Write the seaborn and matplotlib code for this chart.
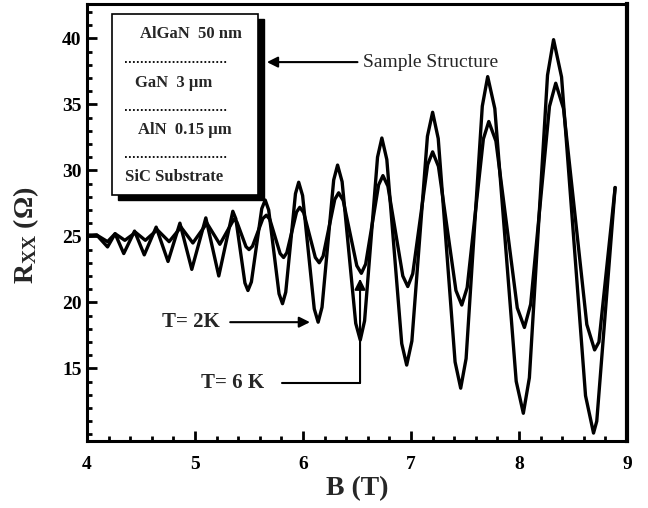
import numpy as np
import pandas as pd
import seaborn as sns
import matplotlib.pyplot as plt
from matplotlib.patches import Rectangle
from matplotlib.ticker import MultipleLocator, FixedLocator

# Данные: B (T) и R_xx (Ohm)
B_2K = [4.00, 4.09, 4.19, 4.26, 4.34, 4.44, 4.53, 4.64, 4.75, 4.86, 4.97, 5.10, 5.22,
        5.35, 5.378, 5.42, 5.462, 5.49, 5.522, 5.57, 5.618, 5.65, 5.682, 5.73, 5.778,
        5.81, 5.84, 5.885, 5.93, 5.96, 5.996, 6.05, 6.104, 6.14, 6.176, 6.23, 6.284,
        6.32, 6.362, 6.425, 6.488, 6.53, 6.57, 6.63, 6.69, 6.73, 6.776, 6.845, 6.914,
        6.96, 7.008, 7.08, 7.152, 7.20, 7.252, 7.33, 7.408, 7.46, 7.51, 7.585, 7.66,
        7.71, 7.776, 7.875, 7.974, 8.04, 8.096, 8.18, 8.264, 8.32, 8.394, 8.505, 8.616,
        8.69, 8.72, 8.89]
R_2K = [25.1, 25.1, 24.2, 25.2, 23.7, 25.4, 23.6, 25.7, 23.1, 26.0, 22.5, 26.4, 22.0,
        26.9, 26.33, 23.9, 21.47, 20.9, 21.55, 24.33, 27.1, 27.75, 27.0, 23.83, 20.65,
        19.9, 20.77, 24.5, 28.23, 29.1, 28.09, 23.8, 19.51, 18.5, 19.63, 24.45, 29.27,
        30.4, 29.14, 23.78, 18.41, 17.15, 18.6, 24.8, 31.0, 32.45, 30.82, 23.85, 16.88,
        15.25, 17.07, 24.83, 32.58, 34.4, 32.41, 23.95, 15.49, 13.5, 15.74, 25.3, 34.86,
        37.1, 34.68, 24.35, 14.02, 11.6, 14.29, 25.75, 37.21, 39.9, 37.07, 25.0, 12.93,
        10.1, 11.0, 28.7]

B_6K = [4.00, 4.09, 4.19, 4.26, 4.35, 4.45, 4.54, 4.65, 4.76, 4.87, 4.98, 5.11, 5.23,
        5.36, 5.388, 5.43, 5.472, 5.50, 5.532, 5.58, 5.628, 5.66, 5.692, 5.74, 5.788,
        5.82, 5.85, 5.895, 5.94, 5.97, 6.006, 6.06, 6.114, 6.15, 6.186, 6.24, 6.294,
        6.33, 6.372, 6.435, 6.498, 6.54, 6.58, 6.64, 6.70, 6.74, 6.786, 6.855, 6.924,
        6.97, 7.016, 7.085, 7.154, 7.20, 7.254, 7.335, 7.416, 7.47, 7.52, 7.595, 7.67,
        7.72, 7.786, 7.885, 7.984, 8.05, 8.108, 8.195, 8.282, 8.34, 8.412, 8.52, 8.628,
        8.70, 8.74, 8.89]
R_6K = [25.0, 25.1, 24.6, 25.2, 24.7, 25.3, 24.7, 25.5, 24.6, 25.7, 24.5, 26.0, 24.4,
        26.3, 26.08, 25.15, 24.22, 24.0, 24.25, 25.3, 26.35, 26.6, 26.3, 25.0, 23.7,
        23.4, 23.76, 25.3, 26.84, 27.2, 26.8, 25.1, 23.4, 23.0, 23.5, 25.65, 27.8,
        28.3, 27.72, 25.25, 22.78, 22.2, 22.9, 25.9, 28.9, 29.6, 28.8, 25.4, 22.0,
        21.2, 22.17, 26.3, 30.43, 31.4, 30.3, 25.6, 20.9, 19.8, 21.12, 26.75, 32.38,
        33.7, 32.22, 25.9, 19.58, 18.1, 19.86, 27.35, 34.84, 36.6, 34.68, 26.5, 18.32,
        16.4, 17.0, 28.7]

layers = ["AlGaN  50 nm", "GaN  3 \u03bcm", "AlN  0.15 \u03bcm", "SiC Substrate"]
x_ticks = [4, 5, 6, 7, 8, 9]
y_ticks = [15, 20, 25, 30, 35, 40]

sns.set_theme(style="ticks")
plt.rcParams['font.family'] = ['Liberation Serif', 'DejaVu Serif']
plt.rcParams['mathtext.fontset'] = 'custom'
plt.rcParams['mathtext.rm'] = 'Liberation Serif'
plt.rcParams['mathtext.bf'] = 'Liberation Serif:bold'
plt.rcParams['mathtext.it'] = 'Liberation Serif:italic'

fig = plt.figure(figsize=(6.48, 5.08), dpi=100)
ax = fig.add_axes([0.1343, 0.1319, 0.8333, 0.8602])

sns.lineplot(x=B_2K, y=R_2K, ax=ax, color='black', lw=2.4, sort=False, estimator=None,
             solid_joinstyle='round', solid_capstyle='round')
sns.lineplot(x=B_6K, y=R_6K, ax=ax, color='black', lw=2.4, sort=False, estimator=None,
             solid_joinstyle='round', solid_capstyle='round')

ax.set_xlim(4, 9)
ax.set_ylim(9.5, 42.6)
ax.xaxis.set_major_locator(FixedLocator(x_ticks))
ax.xaxis.set_minor_locator(MultipleLocator(0.2))
ax.yaxis.set_major_locator(FixedLocator(y_ticks))
ax.yaxis.set_minor_locator(MultipleLocator(1))
ax.tick_params(which='both', direction='in', width=2, colors='black')
ax.tick_params(which='major', length=7)
ax.tick_params(which='minor', length=3.5)
ax.tick_params(axis='x', pad=11, labelsize=14)
ax.tick_params(axis='y', pad=4, labelsize=14)
for lab in ax.get_xticklabels() + ax.get_yticklabels():
    lab.set_fontweight('bold')

for side in ['left', 'bottom', 'top']:
    ax.spines[side].set_linewidth(2.2)
    ax.spines[side].set_color('black')
ax.spines['right'].set_linewidth(3)
ax.spines['right'].set_color('black')

ax.set_xlabel('B (T)', fontsize=20, fontweight='bold', labelpad=2)
ax.set_ylabel('R$_{\\mathbf{XX}}$ (\u03a9)', fontsize=20, fontweight='bold')
ax.yaxis.set_label_coords(-0.085, 0.47)

# Вставка со структурой образца
ax.add_patch(Rectangle((0.057, 0.552), 0.2704, 0.414, transform=ax.transAxes,
                       facecolor='black', edgecolor='black', zorder=4))
ax.add_patch(Rectangle((0.0463, 0.563), 0.2704, 0.414, transform=ax.transAxes,
                       facecolor='white', edgecolor='black', lw=1.2, zorder=5))
text_x = [0.098, 0.089, 0.094, 0.070]
text_y = [0.931, 0.819, 0.712, 0.604]
for name, tx, ty in zip(layers, text_x, text_y):
    ax.text(tx, ty, name, transform=ax.transAxes, fontsize=12, fontweight='bold',
            ha='left', va='center', zorder=6)
for dy in [0.867, 0.757, 0.650]:
    ax.plot([0.0704, 0.2593], [dy, dy], transform=ax.transAxes, color='black',
            lw=1.3, ls=(0, (1, 1.2)), zorder=6)

ax.annotate('', xy=(5.64, 38.2), xytext=(6.53, 38.2),
            arrowprops=dict(arrowstyle='-|>', color='black', lw=1.5, mutation_scale=16))
ax.text(6.556, 38.2, 'Sample Structure', fontsize=14, ha='left', va='center')

ax.text(4.96, 18.5, 'T= 2K', fontsize=15, fontweight='bold', ha='center', va='center')
ax.annotate('', xy=(6.09, 18.5), xytext=(5.30, 18.5),
            arrowprops=dict(arrowstyle='-|>', color='black', lw=1.5, mutation_scale=16))

ax.text(5.35, 13.9, 'T= 6 K', fontsize=15, fontweight='bold', ha='center', va='center')
ax.plot([5.81, 6.528], [13.9, 13.9], color='black', lw=1.5)
ax.annotate('', xy=(6.528, 21.8), xytext=(6.528, 13.9),
            arrowprops=dict(arrowstyle='-|>', color='black', lw=1.5, mutation_scale=16,
                            shrinkA=0, shrinkB=0))

fig.savefig('out.png', dpi=100)
